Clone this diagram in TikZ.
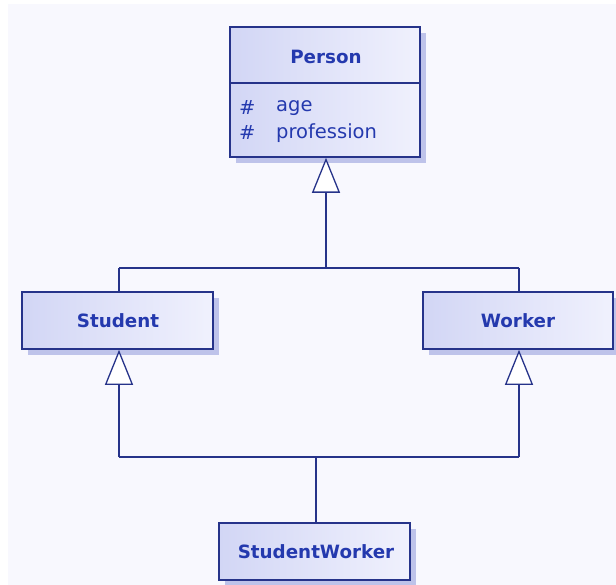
\documentclass[tikz,border=0pt]{standalone}
\usepackage{fontspec}
\setmainfont{DejaVu Sans}
\usetikzlibrary{arrows.meta,shadows}

\definecolor{pagebg}{HTML}{F8F8FE}
\definecolor{linec}{HTML}{26338A}
\definecolor{textc}{HTML}{2439AE}
\definecolor{boxL}{HTML}{D2D6F5}
\definecolor{boxR}{HTML}{F0F1FD}
\definecolor{shadowc}{HTML}{BEC3EA}

\tikzset{
  classbox/.style={draw=linec, line width=1.6pt, rectangle,
    left color=boxL, right color=boxR, inner sep=0pt,
    drop shadow={shadow xshift=6pt, shadow yshift=-6pt, fill=shadowc, opacity=1}},
  classname/.style={text=textc, font=\fontsize{18.3}{21}\selectfont\bfseries, inner sep=0pt},
  attr/.style={text=textc, font=\fontsize{19.5}{22}\selectfont, inner sep=0pt, anchor=west},
  link/.style={draw=linec, line width=1.6pt},
  inherit/.style={link, -{Triangle[length=35pt, width=28pt, fill=white, line width=1.3pt]}}
}

\begin{document}
\begin{tikzpicture}[x=1pt, y=-1pt]
  \useasboundingbox (0,0) rectangle (616,585);
  \fill[white] (0,0) rectangle (616,585);
  \fill[pagebg] (8,4) rectangle (616,585);

  % junction points of the inheritance lines
  \coordinate (upperbar) at (326,268);
  \coordinate (upperL) at (119,268);
  \coordinate (upperR) at (519,268);
  \coordinate (lowerL) at (119,457);
  \coordinate (lowerR) at (519,457);
  \coordinate (lowermid) at (316,457);

  % class boxes
  \node[classbox, minimum width=190pt, minimum height=130pt] (person) at (325,92) {};
  \node[classbox, minimum width=191pt, minimum height=57pt] (student) at (117.5,320.5) {};
  \node[classbox, minimum width=190pt, minimum height=57pt] (worker) at (518,320.5) {};
  \node[classbox, minimum width=191pt, minimum height=57pt] (studentworker) at (314.5,551.5) {};

  % compartment divider of Person
  \coordinate (divL) at (230,83);
  \coordinate (divR) at (420,83);
  \draw[link] (divL) -- (divR);

  % texts
  \node[classname] (personname) at (326,57) {Person};
  \node[attr] (hash1) at (239,108) {\#};
  \node[attr] (age) at (276,108) {age};
  \node[attr] (hash2) at (239,133) {\#};
  \node[attr] (profession) at (276,133) {profession};
  \node[classname] (studentname) at (118,321) {Student};
  \node[classname] (workername) at (518,321) {Worker};
  \node[classname] (studentworkername) at (316,552) {StudentWorker};

  % Student and Worker generalise to Person
  \draw[link] (upperL) -- (upperR);
  \draw[link] (upperL) -- (upperL |- student.north);
  \draw[link] (upperR) -- (upperR |- worker.north);
  \draw[inherit] (upperbar) -- (upperbar |- person.south);

  % StudentWorker generalises to Student and Worker
  \draw[link] (lowerL) -- (lowerR);
  \draw[inherit] (lowerL) -- (lowerL |- student.south);
  \draw[inherit] (lowerR) -- (lowerR |- worker.south);
  \draw[link] (lowermid) -- (lowermid |- studentworker.north);
\end{tikzpicture}
\end{document}
